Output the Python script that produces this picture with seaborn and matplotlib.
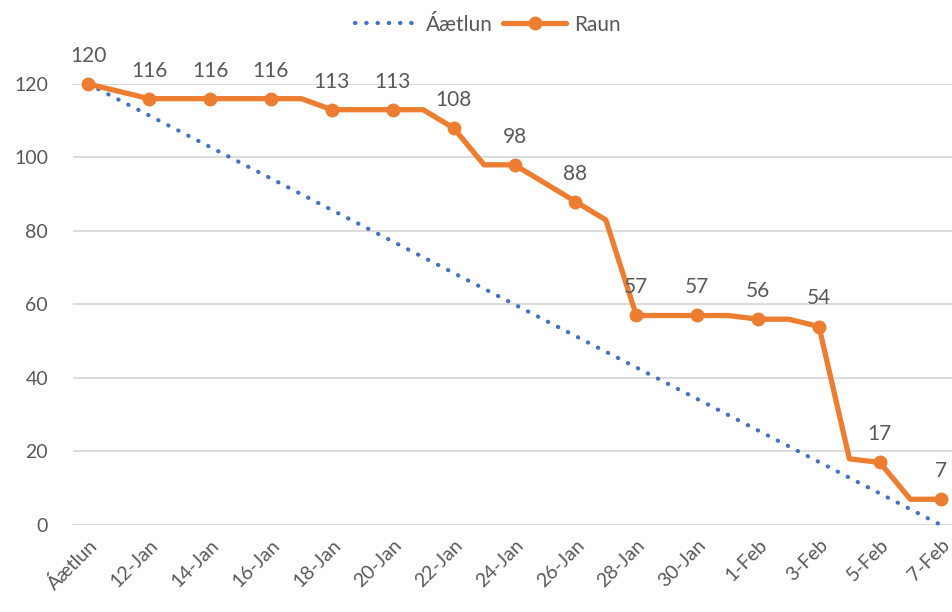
import matplotlib
matplotlib.use("Agg")
import matplotlib.pyplot as plt
import seaborn as sns
import numpy as np

# categories (x axis)
categories = ["Áætlun", "11-Jan", "12-Jan", "13-Jan", "14-Jan", "15-Jan", "16-Jan",
              "17-Jan", "18-Jan", "19-Jan", "20-Jan", "21-Jan", "22-Jan", "23-Jan",
              "24-Jan", "25-Jan", "26-Jan", "27-Jan", "28-Jan", "29-Jan", "30-Jan",
              "31-Jan", "1-Feb", "2-Feb", "3-Feb", "4-Feb", "5-Feb", "6-Feb", "7-Feb"]

# actual remaining (Raun)
raun = [120, 118, 116, 116, 116, 116, 116, 116, 113, 113, 113, 113, 108, 98,
        98, 93, 88, 83, 57, 57, 57, 57, 56, 56, 54, 18, 17, 7, 7]

# plan (Áætlun): straight line from first to last category
plan_cats = ["Áætlun", "7-Feb"]
plan_vals = [120, 0]

ORANGE = "#ED7D31"
BLUE = "#4472C4"
GRAY = "#595959"

sns.set_theme(style="white")
plt.rcParams["font.family"] = ["Lato", "DejaVu Sans"]

fig = plt.figure(figsize=(9.52, 6.12), dpi=100)
ax = fig.add_axes([0.0767, 0.1422, 0.9275, 0.7206])

x_all = np.arange(len(categories))
plan_x = [categories.index(c) for c in plan_cats]

sns.lineplot(x=plan_x, y=plan_vals, ax=ax, color=BLUE, lw=3.0,
             linestyle=(0, (0.1, 2.6)), dash_capstyle="round",
             label="Áætlun", clip_on=False)
sns.lineplot(x=x_all, y=raun, ax=ax, color=ORANGE, lw=3.8,
             marker="o", markersize=10, markeredgewidth=0,
             markevery=2, label="Raun", clip_on=False)

# data labels on the marked points
for i in range(0, len(raun), 2):
    ax.annotate(str(raun[i]), (x_all[i], raun[i]), xytext=(0, 13),
                textcoords="offset points", ha="center", va="bottom",
                fontsize=15, color=GRAY, annotation_clip=False)

ax.set_xlim(-0.5, len(categories) - 0.5)
ax.set_ylim(0, 120)
ax.set_yticks(range(0, 121, 20))
ax.set_xticks(x_all[::2])
ax.set_xticklabels(categories[::2], rotation=45, ha="right",
                   rotation_mode="anchor", fontsize=14, color=GRAY)
ax.tick_params(axis="y", labelsize=14, labelcolor=GRAY, length=0, pad=18)
ax.tick_params(axis="x", length=0, pad=8)
ax.grid(axis="y", color="#D9D9D9", lw=1.3)
ax.set_axisbelow(True)
for s in ax.spines.values():
    s.set_visible(False)
ax.set_xlabel("")
ax.set_ylabel("")

ax.legend(loc="upper center", bbox_to_anchor=(0.47, 1.2), ncol=2,
          frameon=False, fontsize=15, handlelength=3.0, columnspacing=0.5,
          handletextpad=0.4, labelcolor=GRAY, bbox_transform=ax.transAxes)

fig.savefig("out.png", dpi=100)
